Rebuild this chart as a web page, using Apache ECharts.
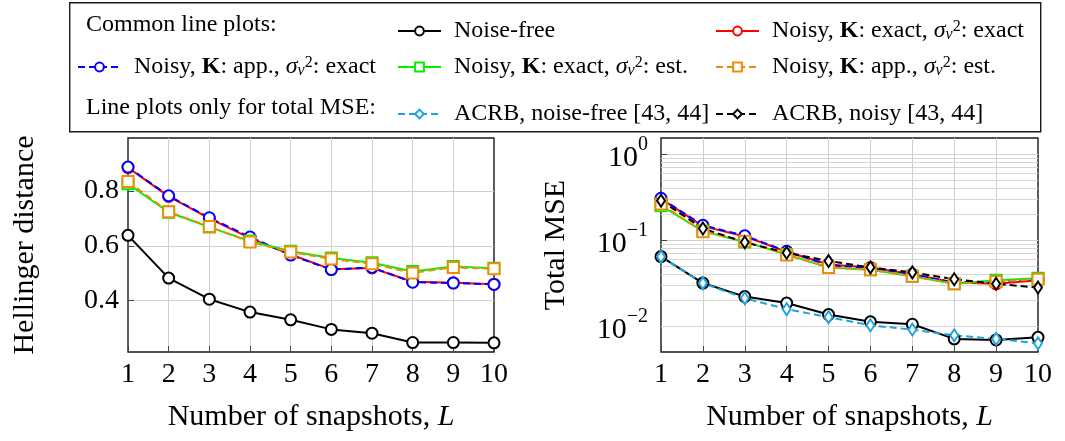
<!DOCTYPE html>
<html>
<head>
<meta charset="utf-8">
<script src="https://cdn.jsdelivr.net/npm/echarts@6/dist/echarts.min.js"></script>
<style>
  html, body { margin: 0; padding: 0; background: #fff; }
  #chart { width: 1065px; height: 441px; }
</style>
</head>
<body>
<div id="chart"></div>
<script>
// Number of snapshots L
const snapshots = [1, 2, 3, 4, 5, 6, 7, 8, 9, 10];

// Hellinger distance
const hdNoiseFree  = [0.638, 0.482, 0.405, 0.358, 0.330, 0.295, 0.281, 0.247, 0.247, 0.246];
const hdExactExact = [0.885, 0.780, 0.700, 0.628, 0.568, 0.514, 0.519, 0.469, 0.465, 0.460];
const hdAppExact   = [0.887, 0.782, 0.702, 0.632, 0.566, 0.513, 0.521, 0.467, 0.464, 0.459];
const hdExactEst   = [0.826, 0.722, 0.668, 0.617, 0.580, 0.555, 0.538, 0.506, 0.524, 0.518];
const hdAppEst     = [0.834, 0.724, 0.670, 0.614, 0.577, 0.552, 0.534, 0.501, 0.521, 0.516];

// Total MSE
const mseNoiseFree  = [0.0642, 0.0316, 0.0220, 0.0185, 0.0136, 0.0112, 0.0105, 0.0071, 0.0069, 0.0074];
const mseExactExact = [0.300, 0.145, 0.110, 0.073, 0.052, 0.048, 0.040, 0.032, 0.031, 0.034];
const mseAppExact   = [0.305, 0.148, 0.112, 0.074, 0.051, 0.047, 0.040, 0.032, 0.033, 0.035];
const mseExactEst   = [0.250, 0.127, 0.095, 0.068, 0.048, 0.045, 0.038, 0.031, 0.034, 0.036];
const mseAppEst     = [0.262, 0.125, 0.097, 0.067, 0.048, 0.045, 0.038, 0.031, 0.033, 0.035];
const acrbNoiseFree = [0.0640, 0.0315, 0.0211, 0.0157, 0.0127, 0.0102, 0.0091, 0.0078, 0.0071, 0.0063];
const acrbNoisy     = [0.286, 0.136, 0.094, 0.071, 0.057, 0.048, 0.042, 0.035, 0.031, 0.028];

// Series names
const N_FREE = 'Noise-free';
const N_EE = 'Noisy, K: exact, s2: exact';
const N_AE = 'Noisy, K: app., s2: exact';
const N_EEST = 'Noisy, K: exact, s2: est.';
const N_AEST = 'Noisy, K: app., s2: est.';
const N_ACRB0 = 'ACRB, noise-free [43, 44]';
const N_ACRB1 = 'ACRB, noisy [43, 44]';

const FONT = '"Liberation Serif", "DejaVu Serif", serif';
const SIG = '{i|σ}{sb|v}{sp|2}';
const legendText = {};
legendText[N_FREE] = 'Noise-free';
legendText[N_EE] = 'Noisy, {b|K}: exact, ' + SIG + ': exact';
legendText[N_AE] = 'Noisy, {b|K}: app., ' + SIG + ': exact';
legendText[N_EEST] = 'Noisy, {b|K}: exact, ' + SIG + ': est.';
legendText[N_AEST] = 'Noisy, {b|K}: app., ' + SIG + ': est.';
legendText[N_ACRB0] = 'ACRB, noise-free [43, 44]';
legendText[N_ACRB1] = 'ACRB, noisy [43, 44]';

const styles = {};
styles[N_FREE]  = { color: '#000000', dash: 'solid', symbol: 'emptyCircle', size: 11 };
styles[N_EE]    = { color: '#ff0000', dash: 'solid', symbol: 'emptyCircle', size: 11 };
styles[N_AE]    = { color: '#0000ff', dash: [7, 4],  symbol: 'emptyCircle', size: 11 };
styles[N_EEST]  = { color: '#00f000', dash: 'solid', symbol: 'emptyRect',   size: 11 };
styles[N_AEST]  = { color: '#f08c0a', dash: [7, 4],  symbol: 'emptyRect',   size: 11 };
styles[N_ACRB0] = { color: '#1fa3e0', dash: [7, 4],  symbol: 'emptyDiamond', size: [8, 12] };
styles[N_ACRB1] = { color: '#000000', dash: [7, 4],  symbol: 'emptyDiamond', size: [8, 12] };

function series(name, values, gridIdx, extra) {
  const st = styles[name];
  return Object.assign({
    name: name,
    type: 'line',
    xAxisIndex: gridIdx,
    yAxisIndex: gridIdx,
    data: snapshots.map((x, i) => [x, values[i]]),
    symbol: st.symbol,
    symbolSize: st.size,
    showAllSymbol: true,
    lineStyle: { color: st.color, width: 2, type: st.dash },
    itemStyle: { color: st.color, borderColor: st.color, borderWidth: 2 },
    emphasis: { disabled: true },
    z: 3
  }, extra || {});
}

// light grid lines at 2..9 x each decade of the log axis
const minorLevels = [];
[0.001, 0.01, 0.1].forEach(d => {
  for (let k = 2; k <= 9; k++) {
    const v = +(k * d).toPrecision(3);
    if (v > 0.005 && v < 1.53) minorLevels.push({ yAxis: v });
  }
});

const tickFont = { fontFamily: FONT, fontSize: 28, color: '#000' };
const nameFont = {
  fontFamily: FONT, fontSize: 30, color: '#000',
  rich: { i: { fontFamily: FONT, fontSize: 30, fontStyle: 'italic' } }
};
const gridLine = {
  show: true, showMinLine: false, showMaxLine: false,
  lineStyle: { color: '#cfcfcf', width: 1 }
};
const innerTick = { show: true, inside: true, length: 6, lineStyle: { color: '#444' } };

function xAxis(gridIdx) {
  return {
    type: 'value', gridIndex: gridIdx, min: 1, max: 10, interval: 1,
    name: 'Number of snapshots, {i|L}', nameLocation: 'middle', nameGap: 50,
    nameTextStyle: nameFont,
    axisLine: { show: false },
    axisTick: innerTick,
    axisLabel: Object.assign({ margin: 9 }, tickFont),
    splitLine: gridLine
  };
}

function legendItem(name, left, top) {
  return {
    data: [name], left: left, top: top, padding: 0,
    itemWidth: 43, itemHeight: 11, selectedMode: false,
    formatter: n => legendText[n],
    textStyle: {
      fontFamily: FONT, fontSize: 24, color: '#000', padding: [0, 0, 0, 8],
      rich: {
        b: { fontFamily: FONT, fontSize: 24, fontWeight: 'bold' },
        i: { fontFamily: FONT, fontSize: 24, fontStyle: 'italic' },
        sb: { fontFamily: FONT, fontSize: 16, fontStyle: 'italic', verticalAlign: 'bottom', lineHeight: 16 },
        sp: { fontFamily: FONT, fontSize: 16, verticalAlign: 'top', lineHeight: 16 }
      }
    }
  };
}

const option = {
  animation: false,
  backgroundColor: '#ffffff',
  grid: [
    { left: 128, top: 138, width: 366, height: 214, show: true, borderColor: '#1a1a1a', borderWidth: 1.4 },
    { left: 661, top: 138, width: 377, height: 214, show: true, borderColor: '#1a1a1a', borderWidth: 1.4 }
  ],
  xAxis: [xAxis(0), xAxis(1)],
  yAxis: [
    {
      type: 'value', gridIndex: 0, min: 0.2125, max: 0.993, splitNumber: 4,
      name: 'Hellinger distance', nameLocation: 'middle', nameGap: 88,
      nameTextStyle: nameFont,
      axisLine: { show: false },
      axisTick: innerTick,
      axisLabel: Object.assign({ margin: 9, showMinLabel: false, showMaxLabel: false,
        formatter: v => v.toFixed(1) }, tickFont),
      splitLine: gridLine
    },
    {
      type: 'log', logBase: 10, gridIndex: 1, min: 0.005, max: 1.53,
      name: 'Total MSE', nameLocation: 'middle', nameGap: 90,
      nameTextStyle: nameFont,
      axisLine: { show: false },
      axisTick: innerTick,
      axisLabel: {
        margin: 13, showMinLabel: false, showMaxLabel: false,
        formatter: v => {
          const e = Math.round(Math.log10(v));
          return '{m|10}{e|' + (e < 0 ? '\u2212' + (-e) : String(e)) + '}';
        },
        rich: {
          m: { fontFamily: FONT, fontSize: 30, color: '#000', lineHeight: 38, verticalAlign: 'bottom' },
          e: { fontFamily: FONT, fontSize: 20, color: '#000', lineHeight: 20, verticalAlign: 'top' }
        }
      },
      splitLine: gridLine
    }
  ],
  legend: [
    legendItem(N_FREE, 397, 19),
    legendItem(N_EE, 715, 19),
    legendItem(N_AE, 77, 55),
    legendItem(N_EEST, 397, 55),
    legendItem(N_AEST, 715, 55),
    legendItem(N_ACRB0, 397, 102),
    legendItem(N_ACRB1, 715, 102)
  ],
  graphic: [
    { type: 'rect', left: 69, top: 2, z: 0,
      shape: { width: 971, height: 129 },
      style: { fill: '#fff', stroke: '#1a1a1a', lineWidth: 1.4 } },
    { type: 'text', x: 86, y: 25, z: 10,
      style: { text: 'Common line plots:', font: '24px ' + FONT, fill: '#000', verticalAlign: 'middle' } },
    { type: 'text', x: 86, y: 108, z: 10,
      style: { text: 'Line plots only for total MSE:', font: '24px ' + FONT, fill: '#000', verticalAlign: 'middle' } }
  ],
  series: [
    series(N_FREE, hdNoiseFree, 0),
    series(N_EE, hdExactExact, 0),
    series(N_AE, hdAppExact, 0),
    series(N_EEST, hdExactEst, 0),
    series(N_AEST, hdAppEst, 0),

    series(N_FREE, mseNoiseFree, 1, {
      markLine: {
        silent: true, z: 1, symbol: ['none', 'none'], animation: false,
        label: { show: false },
        lineStyle: { color: '#d6d6d6', width: 1, type: 'solid' },
        emphasis: { disabled: true },
        data: minorLevels
      }
    }),
    series(N_EE, mseExactExact, 1),
    series(N_AE, mseAppExact, 1),
    series(N_EEST, mseExactEst, 1),
    series(N_AEST, mseAppEst, 1),
    series(N_ACRB0, acrbNoiseFree, 1),
    series(N_ACRB1, acrbNoisy, 1)
  ]
};

const chart = echarts.init(document.getElementById('chart'), null, { renderer: 'canvas' });
chart.setOption(option);
</script>
</body>
</html>
